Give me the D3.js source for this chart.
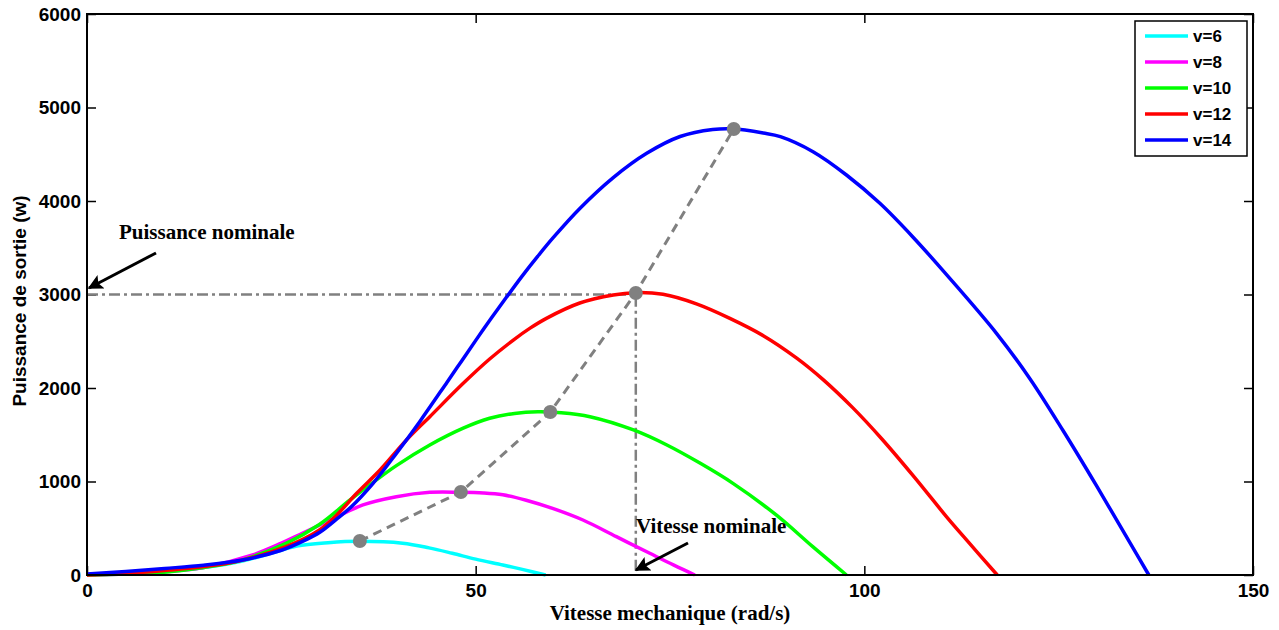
<!DOCTYPE html>
<html>
<head>
<meta charset="utf-8">
<script src="https://cdn.jsdelivr.net/npm/d3@7"></script>
<style>
  body { margin: 0; background: #fff; }
  svg { display: block; }
  .tick text { font-family: Arial, "Liberation Sans", sans-serif; font-weight: bold; font-size: 19px; }
</style>
</head>
<body>
<svg width="1279" height="630"></svg>
<script>
// rotor speed (rad/s) and output power (W)
var w6 = [0, 5, 10, 15, 20, 24, 27, 31, 35, 40.6, 44, 47, 50, 53.5, 56, 59];
var p6 = [0, 15, 40, 80, 150, 240, 310, 345, 360, 340, 290, 232, 170, 107, 60, 0];

var w8 = [0, 5, 10, 15, 21.3, 25, 27.7, 31.3, 35.5, 39.8, 44.1, 48, 51, 53.5, 56.5, 59.8, 63.8, 68.1, 72.4, 75.5, 78.2];
var p8 = [0, 10, 35, 80, 214, 340, 446, 588, 749, 837, 884, 885, 878, 858, 800, 715, 588, 410, 232, 105, 0];

var w10 = [0, 5, 10.6, 15, 19.2, 25.6, 29.9, 33.8, 36.8, 39.8, 44.1, 48.4, 51.8, 55, 58, 61, 64.7, 70.3, 74.6, 78.9, 83.1, 88.7, 93.4, 97.7];
var p10 = [0, 10, 36, 80, 143, 339, 540, 800, 990, 1170, 1390, 1570, 1676, 1728, 1745, 1735, 1693, 1551, 1390, 1194, 980, 640, 300, 0];

var w12 = [0, 5, 10.6, 15, 19.2, 25.6, 29.9, 32.1, 34.7, 37.7, 41.1, 44.1, 48.4, 51.8, 54.8, 57, 59.1, 63.4, 67.7, 70.5, 74.1, 78.4, 82.7, 87.0, 91.3, 94.7, 98.5, 102.2, 106.3, 110.8, 113.2, 117.1];
var p12 = [0, 15, 53, 90, 143, 303, 481, 640, 874, 1123, 1444, 1693, 2050, 2310, 2510, 2640, 2745, 2909, 2995, 3020, 3002, 2900, 2745, 2560, 2320, 2090, 1790, 1460, 1060, 600, 370, 0];

var w14 = [0, 5, 10, 15, 20, 25, 28, 30, 32, 34, 36.8, 39.8, 42.8, 46.3, 48.2, 50.1, 52, 54, 56.1, 58, 60, 63.4, 67.7, 72, 76.3, 80.5, 83.1, 87, 89.2, 93.4, 97.7, 102, 106.3, 110.6, 117, 121.3, 125.6, 129.9, 134.2, 136.6];
var p14 = [10, 38, 70, 105, 160, 265, 370, 460, 590, 730, 981, 1301, 1640, 2060, 2290, 2520, 2745, 2975, 3210, 3410, 3610, 3920, 4250, 4510, 4690, 4765, 4772, 4727, 4688, 4527, 4278, 3975, 3610, 3210, 2585, 2100, 1540, 950, 340, 0];

// maximum power points
var wMax = [35.1, 48.1, 59.6, 70.6, 83.2];
var pMax = [364, 888, 1743, 3016, 4770];

var labels = ["v=6", "v=8", "v=10", "v=12", "v=14"];
var colors = ["#00ffff", "#ff00ff", "#00ff00", "#ff0000", "#0000ff"];

var xTicks = [0, 50, 100, 150];
var yTicks = [0, 1000, 2000, 3000, 4000, 5000, 6000];

var nominalW = 70.6, nominalP = 3000;

var series = [[w6, p6], [w8, p8], [w10, p10], [w12, p12], [w14, p14]];

var svg = d3.select("svg");

var x = d3.scaleLinear().domain([0, 150]).range([87, 1253]);
var y = d3.scaleLinear().domain([0, 6000]).range([575, 14]);
var fmt = d3.format("d");

// axes, matlab style: ticks inside, box all round
svg.append("g")
    .attr("transform", "translate(0,575)")
    .call(d3.axisBottom(x).tickValues(xTicks).tickFormat(fmt).tickSizeInner(-9).tickSizeOuter(0).tickPadding(9))
    .call(g => g.select(".domain").remove());
svg.append("g")
    .attr("transform", "translate(87,0)")
    .call(d3.axisLeft(y).tickValues(yTicks).tickFormat(fmt).tickSizeInner(-9).tickSizeOuter(0).tickPadding(6))
    .call(g => g.select(".domain").remove());
svg.append("g")
    .attr("transform", "translate(0,14)")
    .call(d3.axisTop(x).tickValues(xTicks).tickSizeInner(-9).tickSizeOuter(0).tickFormat(""))
    .call(g => g.select(".domain").remove());
svg.append("g")
    .attr("transform", "translate(1253,0)")
    .call(d3.axisRight(y).tickValues(yTicks).tickSizeInner(-9).tickSizeOuter(0).tickFormat(""))
    .call(g => g.select(".domain").remove());
svg.selectAll(".tick line").attr("stroke", "#000").attr("stroke-width", 1.5);
svg.selectAll(".tick text").attr("fill", "#000");

// nominal point guides
svg.append("path")
    .attr("d", "M" + x(0) + "," + y(nominalP) + "H" + x(nominalW) + "V" + y(0))
    .attr("fill", "none")
    .attr("stroke", "#808080")
    .attr("stroke-width", 2.5)
    .attr("stroke-dasharray", "11,4,3,4");

var line = d3.line()
    .x(d => x(d[0]))
    .y(d => y(d[1]))
    .curve(d3.curveCatmullRom.alpha(0.5));

series.forEach(function (s, i) {
    var pts = s[0].map((v, j) => [v, s[1][j]]);
    svg.append("path")
        .datum(pts)
        .attr("d", line)
        .attr("fill", "none")
        .attr("stroke", colors[i])
        .attr("stroke-width", 3.5)
        .attr("stroke-linejoin", "round");
});

// max power trajectory
var maxPts = wMax.map((v, j) => [v, pMax[j]]);
svg.append("path")
    .datum(maxPts)
    .attr("d", d3.line().x(d => x(d[0])).y(d => y(d[1])))
    .attr("fill", "none")
    .attr("stroke", "#808080")
    .attr("stroke-width", 3)
    .attr("stroke-dasharray", "9,6");
svg.selectAll(".maxpt")
    .data(maxPts)
    .enter().append("circle")
    .attr("class", "maxpt")
    .attr("cx", d => x(d[0]))
    .attr("cy", d => y(d[1]))
    .attr("r", 7)
    .attr("fill", "#808080");

// frame
svg.append("rect")
    .attr("x", 87).attr("y", 14)
    .attr("width", 1253 - 87).attr("height", 575 - 14)
    .attr("fill", "none")
    .attr("stroke", "#000")
    .attr("stroke-width", 2);

// annotations
svg.append("defs").append("marker")
    .attr("id", "arrow")
    .attr("viewBox", "0 0 10 10")
    .attr("refX", 9).attr("refY", 5)
    .attr("markerWidth", 5).attr("markerHeight", 5)
    .attr("orient", "auto")
    .append("path").attr("d", "M0,0L10,5L0,10L2,5Z").attr("fill", "#000");

function note(txt, tx, ty, x1, y1, x2, y2) {
    svg.append("text")
        .attr("x", tx).attr("y", ty)
        .attr("font-family", "'Liberation Serif', 'Times New Roman', serif")
        .attr("font-weight", "bold")
        .attr("font-size", 21)
        .text(txt);
    svg.append("line")
        .attr("x1", x1).attr("y1", y1).attr("x2", x2).attr("y2", y2)
        .attr("stroke", "#000").attr("stroke-width", 3)
        .attr("marker-end", "url(#arrow)");
}
note("Puissance nominale", 119, 239, 156, 253, 89, 288);
note("Vitesse nominale", 636, 533, 688, 543, 636, 570);

// axis titles
svg.append("text")
    .attr("x", 670).attr("y", 620)
    .attr("text-anchor", "middle")
    .attr("font-family", "'Liberation Serif', 'Times New Roman', serif")
    .attr("font-weight", "bold")
    .attr("font-size", 21)
    .text("Vitesse mechanique (rad/s)");
svg.append("text")
    .attr("transform", "translate(26,301) rotate(-90)")
    .attr("text-anchor", "middle")
    .attr("font-family", "Arial, 'Liberation Sans', sans-serif")
    .attr("font-weight", "bold")
    .attr("font-size", 19)
    .text("Puissance de sortie (w)");

// legend
var lg = svg.append("g");
lg.append("rect")
    .attr("x", 1135).attr("y", 21)
    .attr("width", 112).attr("height", 135)
    .attr("fill", "#fff")
    .attr("stroke", "#000")
    .attr("stroke-width", 1.5);
labels.forEach(function (l, i) {
    var ry = 36 + i * 26;
    lg.append("line")
        .attr("x1", 1145).attr("x2", 1188)
        .attr("y1", ry).attr("y2", ry)
        .attr("stroke", colors[i]).attr("stroke-width", 3.5);
    lg.append("text")
        .attr("x", 1193).attr("y", ry + 6)
        .attr("font-family", "Arial, 'Liberation Sans', sans-serif")
        .attr("font-weight", "bold")
        .attr("font-size", 17)
        .text(l);
});
</script>
</body>
</html>
